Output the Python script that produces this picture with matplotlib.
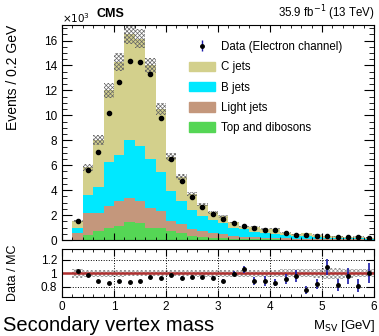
import numpy as np
import matplotlib
matplotlib.use("Agg")
import matplotlib.pyplot as plt
from matplotlib.patches import Patch
from matplotlib.ticker import MultipleLocator

plt.rcParams['font.family'] = ['Liberation Sans', 'DejaVu Sans']
plt.rcParams['hatch.linewidth'] = 0.5

# bins of 0.2 GeV from 0.2 to 6.0, values in units of 10^3 events
edges = np.round(np.arange(0.2, 6.01, 0.2), 2)

top_dib = [0.0, 0.43, 0.73, 0.94, 1.1, 1.45, 1.4, 0.99, 0.99, 0.73, 0.56, 0.32, 0.24, 0.19, 0.14,
           0.11, 0.09, 0.07, 0.06, 0.05, 0.04, 0.03, 0.03, 0.02, 0.02, 0.02, 0.01, 0.01, 0.01]
light_jets = [0.56, 1.72, 1.42, 1.8, 1.99, 1.88, 1.75, 1.56, 1.31, 0.8, 0.7, 0.54, 0.49, 0.4, 0.32,
              0.23, 0.19, 0.16, 0.13, 0.12, 0.10, 0.08, 0.07, 0.07, 0.05, 0.04, 0.05, 0.04, 0.03]
b_jets = [0.39, 1.48, 2.12, 3.49, 3.74, 4.71, 4.38, 3.95, 3.13, 2.37, 1.89, 1.54, 1.21, 1.0, 0.94,
          0.65, 0.58, 0.44, 0.37, 0.34, 0.24, 0.19, 0.2, 0.15, 0.11, 0.1, 0.08, 0.08, 0.06]
c_jets = [0.56, 2.19, 3.74, 5.77, 7.44, 8.45, 8.63, 7.5, 5.05, 2.77, 1.9, 1.29, 0.89, 0.64, 0.5,
          0.42, 0.2, 0.4, 0.32, 0.4, 0.22, 0.15, 0.26, 0.19, 0.13, 0.13, 0.11, 0.14, 0.09]
data = [1.55, 5.65, 7.05, 10.2, 12.7, 14.35, 14.3, 13.3, 9.75, 6.5, 4.72, 3.47, 2.66, 2.07, 1.68,
        1.4, 1.12, 0.95, 0.78, 0.78, 0.55, 0.43, 0.42, 0.36, 0.34, 0.24, 0.24, 0.22, 0.19]
# relative error on data (as seen in the ratio panel)
data_relerr = [0.025, 0.012, 0.012, 0.01, 0.01, 0.01, 0.01, 0.01, 0.012, 0.015, 0.017, 0.02, 0.022,
               0.025, 0.03, 0.035, 0.05, 0.06, 0.07, 0.05, 0.075, 0.09, 0.06, 0.07, 0.12, 0.09,
               0.12, 0.1, 0.145]
# relative MC uncertainty (hatched band)
mc_relunc = [0.07, 0.05, 0.05, 0.05, 0.05, 0.045, 0.045, 0.045, 0.045, 0.045, 0.045, 0.045, 0.05,
             0.05, 0.05, 0.05, 0.05, 0.05, 0.055, 0.055, 0.06, 0.06, 0.06, 0.07, 0.08, 0.085,
             0.07, 0.06, 0.06]

colors = {'top': '#55d655', 'light': '#c4977c', 'b': '#00e8ff', 'c': '#d3d08c'}

centers = 0.5 * (edges[1:] + edges[:-1])
data = np.array(data)
stack = [np.array(top_dib), np.array(light_jets), np.array(b_jets), np.array(c_jets)]
cols = [colors['top'], colors['light'], colors['b'], colors['c']]
mc = np.sum(stack, axis=0)
ratio = data / mc
ratio_err = np.array(data_relerr)
unc = np.array(mc_relunc)

fig = plt.figure(figsize=(3.79, 3.36), dpi=100)
ax = fig.add_axes([0.1636, 0.2857, 0.8232, 0.64])
rax = fig.add_axes([0.1636, 0.1146, 0.8232, 0.1444])

# stacked histogram
bottom = np.zeros(len(centers))
for vals, col in zip(stack, cols):
    ax.bar(edges[:-1], vals, width=0.2, bottom=bottom, align='edge', color=col, linewidth=0)
    bottom = bottom + vals

# MC uncertainty band
lo = np.append(mc * (1 - unc), mc[-1] * (1 - unc[-1]))
hi = np.append(mc * (1 + unc), mc[-1] * (1 + unc[-1]))
ax.fill_between(edges, lo, hi, step='post', facecolor='none', edgecolor='#666666',
                hatch='xxxxxxxx', linewidth=0)

# data
ax.errorbar(centers, data, yerr=ratio_err * mc, fmt='o', color='black', ms=3,
            ecolor='#1a1aa8', elinewidth=1.2, capsize=0, zorder=5)

ax.set_xlim(0, 6)
ax.set_ylim(0, 17.25)
ax.set_xticklabels([])
ax.xaxis.set_major_locator(MultipleLocator(1))
ax.xaxis.set_minor_locator(MultipleLocator(0.2))
ax.yaxis.set_major_locator(MultipleLocator(2))
ax.yaxis.set_minor_locator(MultipleLocator(0.5))
ax.tick_params(which='both', direction='in', top=True, right=True, labelsize=8.5)
ax.tick_params(axis='y', which='major', length=7)
ax.tick_params(axis='y', which='minor', length=3.5)
ax.tick_params(axis='x', which='major', length=5)
ax.tick_params(axis='x', which='minor', length=2.5)

# legend
handles = [ax.errorbar([], [], yerr=[], fmt='o', color='black', ms=2.5, ecolor='#1a1aa8', elinewidth=1),
           Patch(color=colors['c']), Patch(color=colors['b']),
           Patch(color=colors['light']), Patch(color=colors['top'])]
labels = ['Data (Electron channel)', 'C jets', 'B jets', 'Light jets', 'Top and dibosons']
ax.legend(handles, labels, loc='upper left', bbox_to_anchor=(0.39, 0.952), frameon=False,
          fontsize=8.3, handlelength=2.2, handleheight=0.9, labelspacing=0.72, handletextpad=0.55,
          borderpad=0)

# ratio panel
rlo = np.append(1 - unc, 1 - unc[-1])
rhi = np.append(1 + unc, 1 + unc[-1])
rax.fill_between(edges, rlo, rhi, step='post', facecolor='none', edgecolor='#8c8c8c',
                 hatch='xxxxxxxx', linewidth=0)
rax.axhline(1.0, color='#b03030', lw=1.8)
rax.errorbar(centers, ratio, yerr=ratio_err, fmt='o', color='black', ms=2.5,
             ecolor='#1a1aa8', elinewidth=1.2, capsize=0, zorder=5)
rax.set_xlim(0, 6)
rax.set_ylim(0.64, 1.36)
rax.set_yticks([0.8, 1.0, 1.2])
rax.set_yticklabels(['0.8', '1', '1.2'])
rax.xaxis.set_major_locator(MultipleLocator(1))
rax.xaxis.set_minor_locator(MultipleLocator(0.2))
rax.grid(True, which='major', color='black', linestyle=':', linewidth=0.7)
rax.tick_params(which='both', direction='in', top=True, right=True, labelsize=8.5)
rax.tick_params(axis='x', which='major', pad=2.5)
rax.tick_params(axis='y', which='major', length=6)
rax.tick_params(axis='x', which='major', length=5)
rax.tick_params(which='minor', length=2.5)

# texts
fig.text(0.1636, 0.925, r'$\times10^{3}$', fontsize=7.5, va='bottom', ha='left')
fig.text(0.255, 0.957, 'CMS', fontsize=9, fontweight='bold', va='center', ha='left')
fig.text(0.99, 0.96, r'35.9 fb$^{-1}$ (13 TeV)', fontsize=8.3, va='center', ha='right')
fig.text(0.035, 0.926, 'Events / 0.2 GeV', fontsize=10, rotation=90, va='top', ha='center')
fig.text(0.035, 0.187, 'Data / MC', fontsize=9, rotation=90, va='center', ha='center')
fig.text(0.008, 0.016, 'Secondary vertex mass', fontsize=14.5, va='baseline', ha='left')
fig.text(0.99, 0.022, r'M$_{\mathrm{SV}}$ [GeV]', fontsize=9.5, va='baseline', ha='right')

fig.savefig('out.png', dpi=100)
